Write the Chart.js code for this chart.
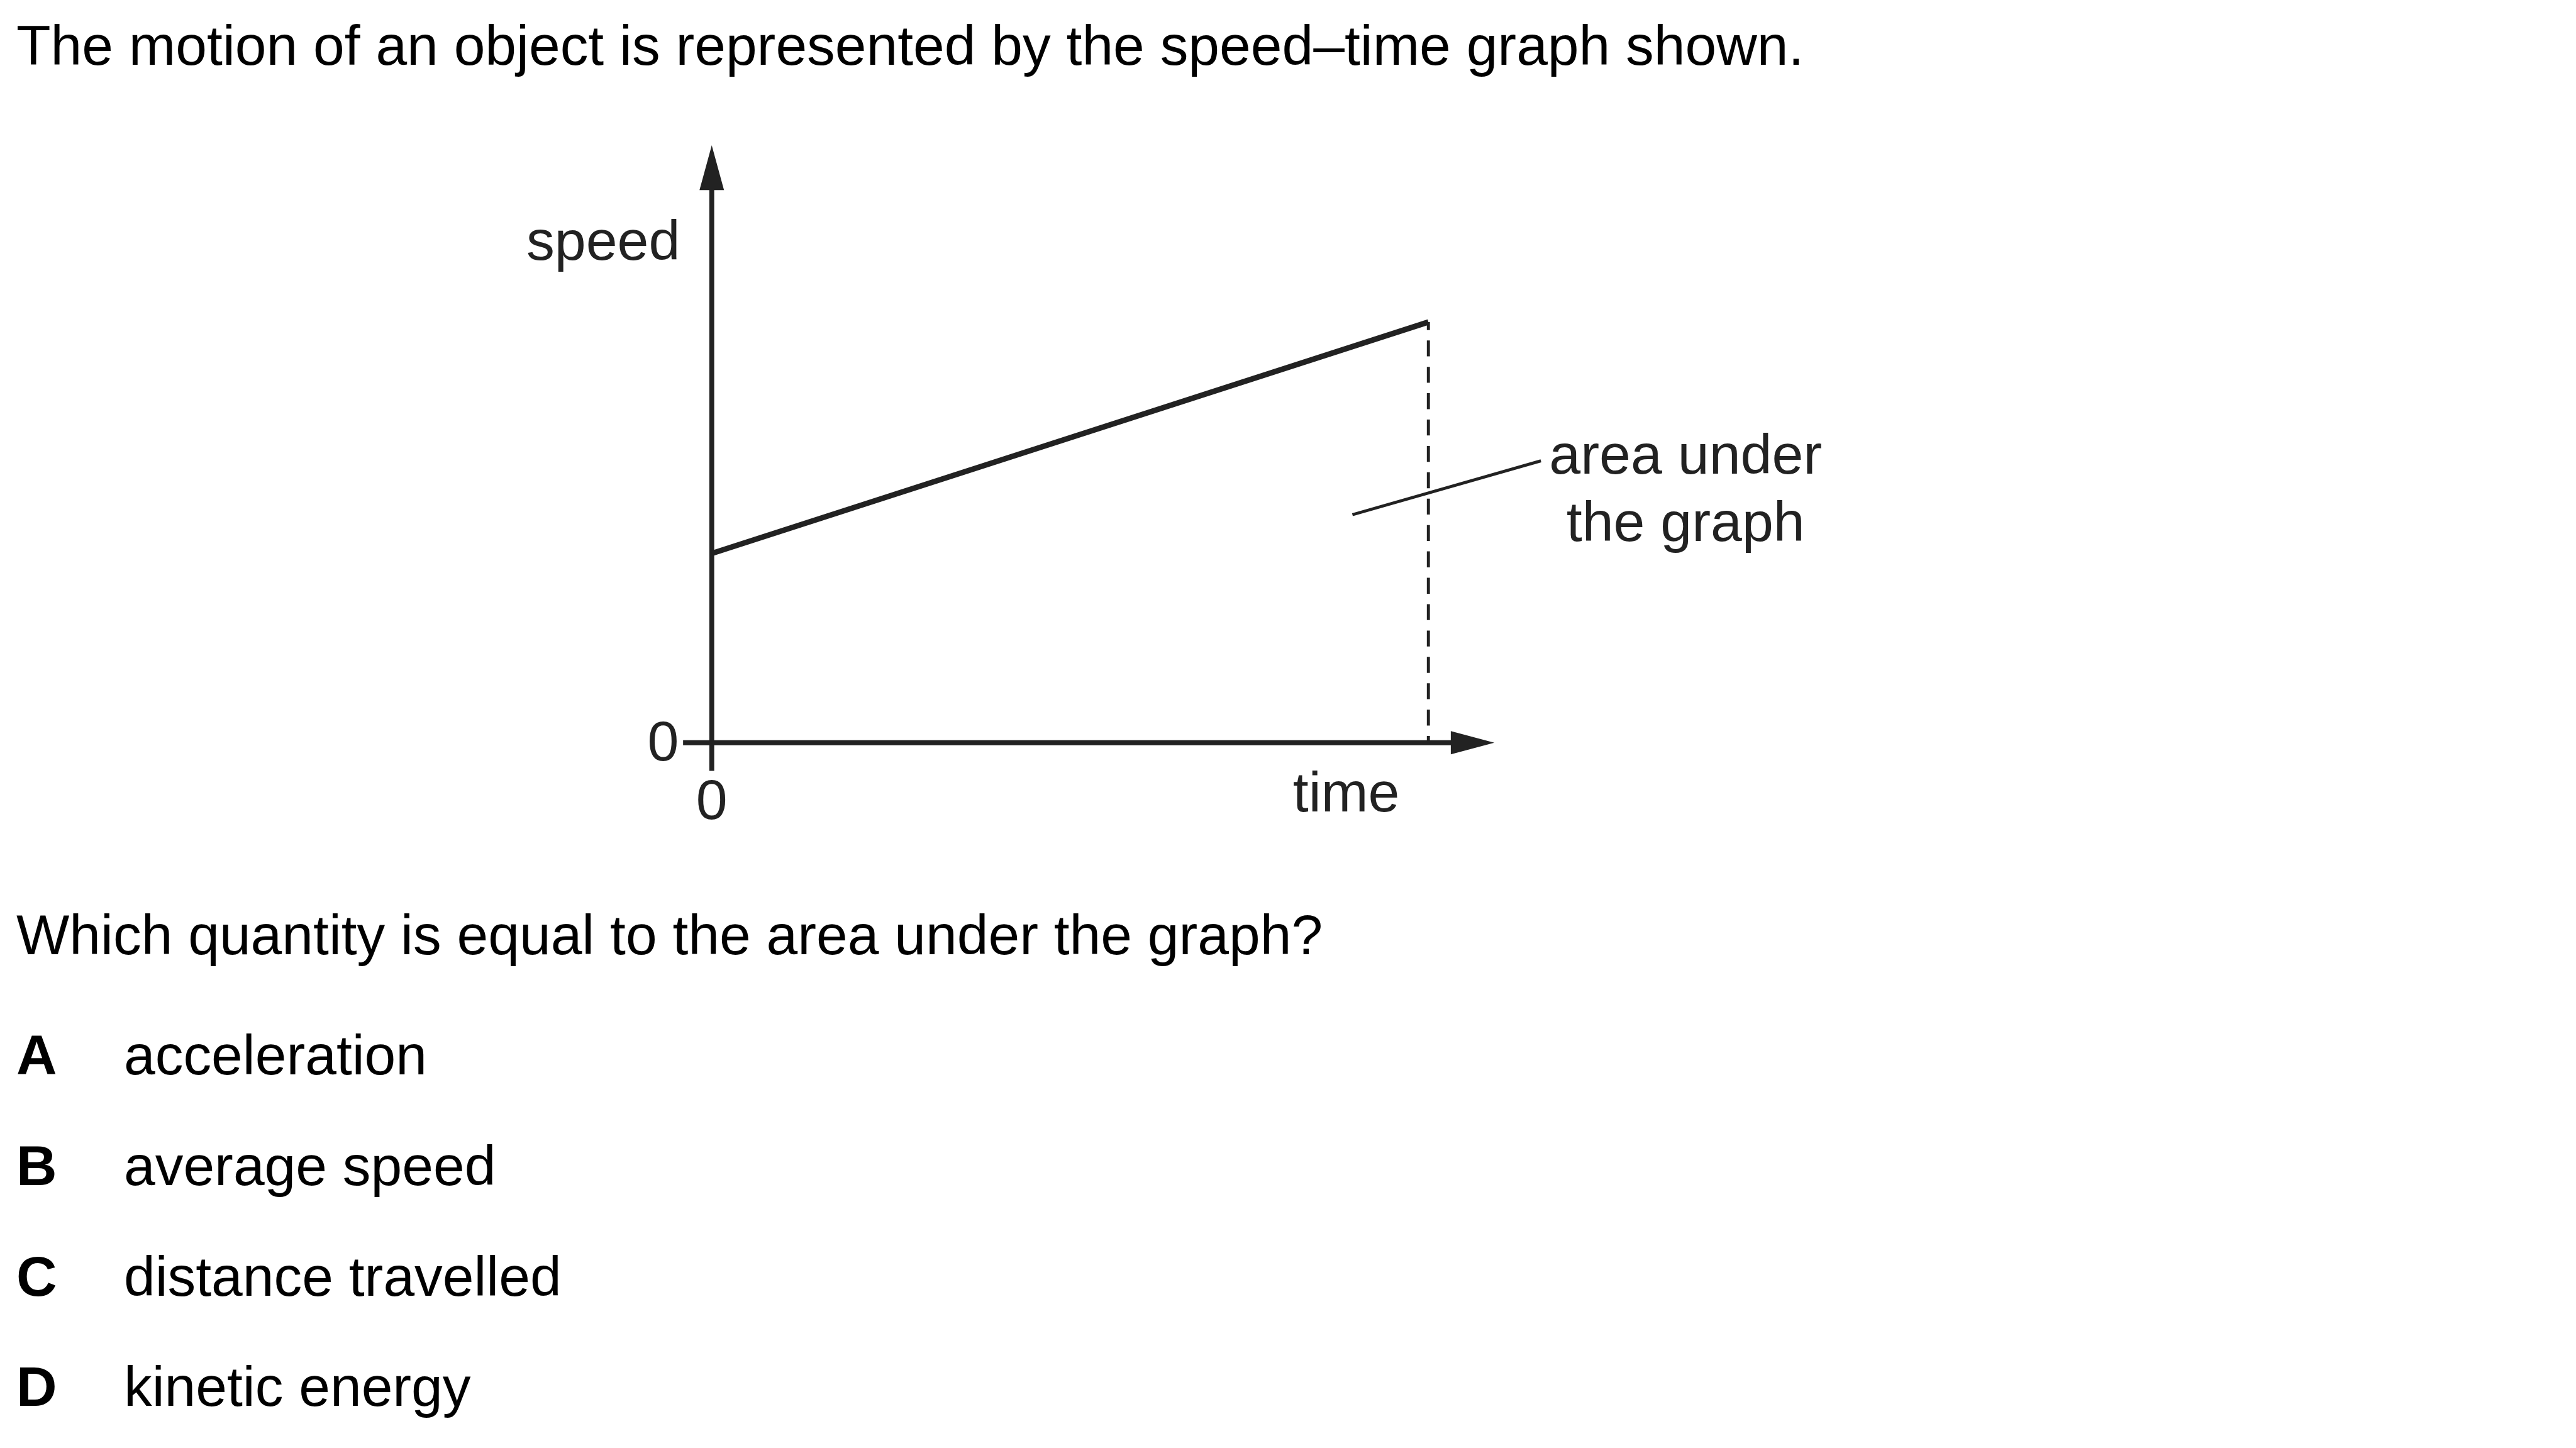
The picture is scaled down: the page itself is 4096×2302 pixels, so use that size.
<!DOCTYPE html>
<html>
<head>
<meta charset="utf-8">
<script src="https://cdn.jsdelivr.net/npm/chart.js@4.4.1/dist/chart.umd.min.js"></script>
<style>
  html, body { margin: 0; padding: 0; background: #fff; }
  body { width: 4096px; height: 2302px; position: relative; overflow: hidden;
         font-family: "Liberation Sans", Arial, sans-serif; color: #000; }
  #chartBox { position: absolute; left: 0; top: 0; width: 4096px; height: 2302px; }
  .txt { position: absolute; font-size: 89.4px; line-height: 89.4px; white-space: nowrap; }
  .letter { font-weight: bold; left: 26px; }
  .opt { left: 197px; }
</style>
</head>
<body>
<div id="chartBox"><canvas id="graph"></canvas></div>

<div class="txt" style="left:26px; top:28px;">The motion of an object is represented by the speed–time graph shown.</div>
<div class="txt" style="left:26px; top:1442px;">Which quantity is equal to the area under the graph?</div>

<div class="txt letter" style="top:1633px;">A</div><div class="txt opt" style="top:1633px;">acceleration</div>
<div class="txt letter" style="top:1809px;">B</div><div class="txt opt" style="top:1809px;">average speed</div>
<div class="txt letter" style="top:1985px;">C</div><div class="txt opt" style="top:1985px;">distance travelled</div>
<div class="txt letter" style="top:2160px;">D</div><div class="txt opt" style="top:2160px;">kinetic energy</div>

<script>
// scale of the page against the reference
const S = 0.975;
const INK = '#222';
const FONT = '"Liberation Sans", Arial, sans-serif';

// graph data (arbitrary units)
const timeValues = [0, 10];
const speedValues = [4.5, 10];
const xTicks = [0];
const yTicks = [0];
// pointer line for the "area under the graph" label
const leaderTime = [8.94, 11.57];
const leaderSpeed = [5.42, 6.70];
const areaLabel = ['area under', 'the graph'];

const xRange = [-0.40, 10.92];
const yRange = [-0.67, 14.2];

const linePoints = timeValues.map((t, i) => ({ x: t, y: speedValues[i] }));
const endT = timeValues[timeValues.length - 1];
const endV = speedValues[speedValues.length - 1];
const dropPoints = [{ x: endT, y: endV }, { x: endT, y: 0 }];
const leaderPoints = leaderTime.map((t, i) => ({ x: t, y: leaderSpeed[i] }));

// axes with arrow heads and the free labels
const axesPlugin = {
    id: 'axesPlugin',
    beforeDatasetsDraw(chart) {
        const { ctx, chartArea: a, scales: { x, y } } = chart;
        const x0 = x.getPixelForValue(0);
        const y0 = y.getPixelForValue(0);
        ctx.save();
        ctx.strokeStyle = INK;
        ctx.fillStyle = INK;
        ctx.lineWidth = 8 * S;
        ctx.beginPath();
        ctx.moveTo(x0, a.bottom);
        ctx.lineTo(x0, a.top + 40 * S);
        ctx.moveTo(a.left, y0);
        ctx.lineTo(a.right - 40 * S, y0);
        ctx.stroke();

        // arrow heads
        ctx.beginPath();
        ctx.moveTo(x0, a.top);
        ctx.lineTo(x0 - 20 * S, a.top + 73 * S);
        ctx.lineTo(x0 + 20 * S, a.top + 73 * S);
        ctx.closePath();
        ctx.fill();
        ctx.beginPath();
        ctx.moveTo(a.right, y0);
        ctx.lineTo(a.right - 71 * S, y0 - 19 * S);
        ctx.lineTo(a.right - 71 * S, y0 + 19 * S);
        ctx.closePath();
        ctx.fill();
        ctx.restore();
    },
    afterDatasetsDraw(chart) {
        const { ctx, chartArea: a, scales: { x, y } } = chart;
        ctx.save();
        ctx.fillStyle = INK;
        ctx.font = (92 * S) + 'px ' + FONT;
        ctx.textBaseline = 'alphabetic';

        ctx.textAlign = 'right';
        ctx.fillText('speed', a.left - 5 * S, a.top + 187 * S);

        ctx.textAlign = 'center';
        ctx.fillText('time', x.getPixelForValue(endT) - 134 * S, y.getPixelForValue(0) + 112 * S);

        const lx = x.getPixelForValue(leaderTime[1]);
        const ly = y.getPixelForValue(leaderSpeed[1]);
        areaLabel.forEach((s, i) => {
            ctx.fillText(s, lx + 236 * S, ly + (21 + 110 * i) * S);
        });
        ctx.restore();
    }
};

const tickFont = { family: FONT, size: 92 * S };

new Chart(document.getElementById('graph'), {
    type: 'line',
    data: {
        datasets: [
            {
                label: 'speed',
                data: linePoints,
                borderColor: INK,
                borderWidth: 9 * S,
                pointRadius: 0,
                tension: 0
            },
            {
                label: 'drop',
                data: dropPoints,
                borderColor: INK,
                borderWidth: 5 * S,
                borderDash: [26 * S, 17 * S],
                borderDashOffset: 13 * S,
                pointRadius: 0
            },
            {
                label: 'leader',
                data: leaderPoints,
                borderColor: INK,
                borderWidth: 5 * S,
                pointRadius: 0,
                clip: false
            }
        ]
    },
    options: {
        responsive: true,
        maintainAspectRatio: false,
        devicePixelRatio: 1,
        animation: false,
        events: [],
        layout: {
            padding: { left: 1114 * S - 120, right: 4096 - 2437 * S, top: 237 * S, bottom: 2302 - 1257 * S - 150 }
        },
        plugins: {
            legend: { display: false },
            tooltip: { enabled: false }
        },
        scales: {
            x: {
                type: 'linear',
                min: xRange[0],
                max: xRange[1],
                border: { display: false },
                grid: { display: false, drawTicks: false },
                afterBuildTicks: s => { s.ticks = xTicks.map(v => ({ value: v })); },
                afterFit: s => { s.height = 150; },
                ticks: { color: INK, font: tickFont, padding: -2, maxRotation: 0 }
            },
            y: {
                type: 'linear',
                min: yRange[0],
                max: yRange[1],
                border: { display: false },
                grid: { display: false, drawTicks: false },
                afterBuildTicks: s => { s.ticks = yTicks.map(v => ({ value: v })); },
                afterFit: s => { s.width = 120; },
                ticks: { color: INK, font: tickFont, padding: 7 * S, labelOffset: 4 }
            }
        }
    },
    plugins: [axesPlugin]
});
</script>
</body>
</html>
